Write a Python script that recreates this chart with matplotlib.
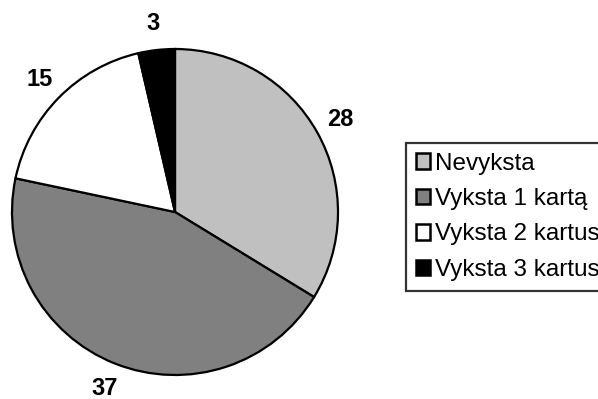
import matplotlib
matplotlib.use("Agg")
import matplotlib.pyplot as plt
from matplotlib.patches import Patch

categories = ["Nevyksta", "Vyksta 1 kartą", "Vyksta 2 kartus", "Vyksta 3 kartus"]
values = [28, 37, 15, 3]
colors = ["#C0C0C0", "#808080", "#FFFFFF", "#000000"]

plt.rcParams['font.family'] = ['Liberation Sans', 'DejaVu Sans']

fig = plt.figure(figsize=(5.98, 3.99), dpi=100)
W, H = 598, 399
cx, cy, r = 175, 212, 163
ax = fig.add_axes([(cx - r) / W, (H - cy - r) / H, 2 * r / W, 2 * r / H])

total = sum(values)
wedges, texts, autotexts = ax.pie(
    values, colors=colors, startangle=90, counterclock=False,
    wedgeprops=dict(edgecolor="black", linewidth=1.6),
    autopct=lambda p: f"{round(p * total / 100)}", pctdistance=1.165,
    textprops=dict(fontsize=17, fontweight="bold", color="black"),
)
ax.set_xlim(-1, 1)
ax.set_ylim(-1, 1)
ax.axis("off")

handles = [Patch(facecolor=c, edgecolor="black", linewidth=1.8) for c in colors]
leg = fig.legend(handles, categories, loc="upper left",
                 bbox_to_anchor=(406 / W, 1 - 143 / H),
                 fontsize=17.5, frameon=True, fancybox=False, shadow=False,
                 handlelength=0.6, handleheight=0.6, handletextpad=0.2,
                 labelspacing=0.55, borderpad=0.4, borderaxespad=0)
leg.get_frame().set_edgecolor("black")
leg.get_frame().set_linewidth(1.6)

fig.savefig("out.png", dpi=100)
